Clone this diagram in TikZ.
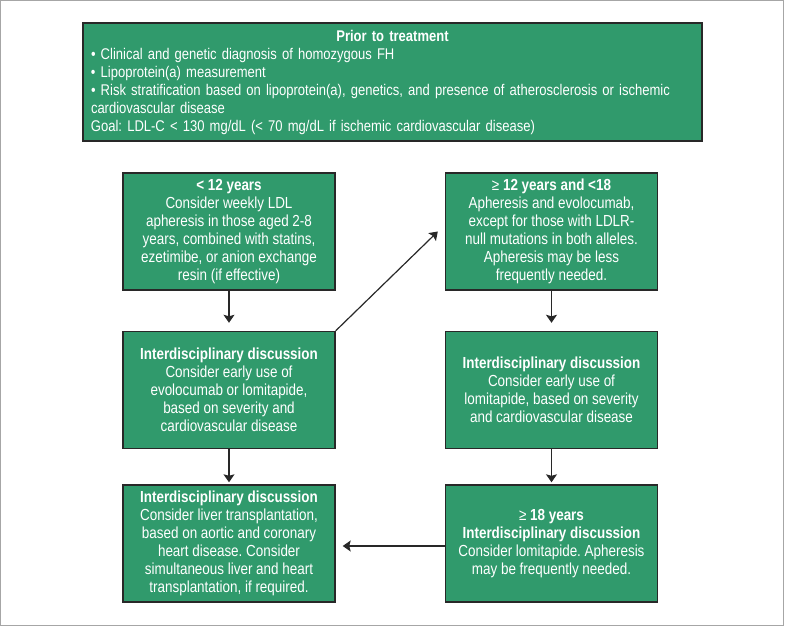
\documentclass[tikz,border=0pt]{standalone}
\usepackage{fontspec}
\setmainfont{Liberation Sans}[FakeStretch=0.84]
\usetikzlibrary{arrows.meta}
\definecolor{boxgreen}{RGB}{48,154,108}
\definecolor{boxline}{RGB}{40,40,40}
\frenchspacing
\begin{document}
\begin{tikzpicture}[x=1pt,y=-1pt,
    stepbox/.style={draw=boxline, fill=boxgreen, text=white, line width=1.4pt, align=center,
      minimum width=212pt, minimum height=117pt, inner sep=0pt, font=\fontsize{16}{18}\selectfont},
    arr/.style={-{Stealth[width=11pt,length=8pt,inset=1.5pt]}, line width=1.2pt, draw=boxline}]
        \useasboundingbox (0,0) rectangle (785,626);
        % Frame
        \draw[gray!70, line width=1pt] (0.5,0.5) rectangle (783.5,625.5);

        % Prior to treatment
        \node[stepbox, minimum width=619pt, minimum height=118pt, text width=603pt, align=left,
              font=\fontsize{15.5}{18}\selectfont] (prior) at (392.5,82)
            {{\centering\bfseries Prior to treatment\par}
             • Clinical and genetic diagnosis of homozygous FH\\
             • Lipoprotein(a) measurement\\
             • Risk stratification based on lipoprotein(a), genetics, and presence of atherosclerosis or ischemic\\
             cardiovascular disease\\
             Goal: LDL-C < 130 mg/dL (< 70 mg/dL if ischemic cardiovascular disease)};

        % Under 12 years
        \node[stepbox] (young) at (229,231.5)
            {\textbf{< 12 years}\\ Consider weekly LDL\\ apheresis in those aged 2-8\\
             years, combined with statins,\\ ezetimibe, or anion exchange\\ resin (if effective)};
        \node[stepbox] (youngdisc) at (229,390)
            {\textbf{Interdisciplinary discussion}\\ Consider early use of\\ evolocumab or lomitapide,\\
             based on severity and\\ cardiovascular disease};
        \node[stepbox] (liver) at (229,543.5)
            {\textbf{Interdisciplinary discussion}\\ Consider liver transplantation,\\ based on aortic and coronary\\
             heart disease. Consider\\ simultaneous liver and heart\\ transplantation, if required.};

        % 12 to 18 years
        \node[stepbox] (teen) at (551.5,231.5)
            {≥ \textbf{12 years and <18}\\ Apheresis and evolocumab,\\ except for those with LDLR-\\
             null mutations in both alleles.\\ Apheresis may be less\\ frequently needed.};
        \node[stepbox] (teendisc) at (551.5,390)
            {\textbf{Interdisciplinary discussion}\\ Consider early use of\\ lomitapide, based on severity\\
             and cardiovascular disease};
        \node[stepbox] (adult) at (551.5,543.5)
            {≥ \textbf{18 years}\\ \textbf{Interdisciplinary discussion}\\ Consider lomitapide. Apheresis\\
             may be frequently needed.};

        % Connections
        \draw[arr, shorten >=8pt] (young) -- (youngdisc);
        \draw[arr, shorten >=2pt] (youngdisc) -- (liver);
        \draw[arr, shorten >=8pt] (teen) -- (teendisc);
        \draw[arr, shorten >=2pt] (teendisc) -- (adult);
        \draw[arr] (youngdisc.north east) -- ([xshift=-7pt]teen.west);
        \draw[arr, shorten >=7pt] ([yshift=-2.5pt]adult.west) -- ([yshift=-2.5pt]liver.east);
    \end{tikzpicture}
\end{document}
